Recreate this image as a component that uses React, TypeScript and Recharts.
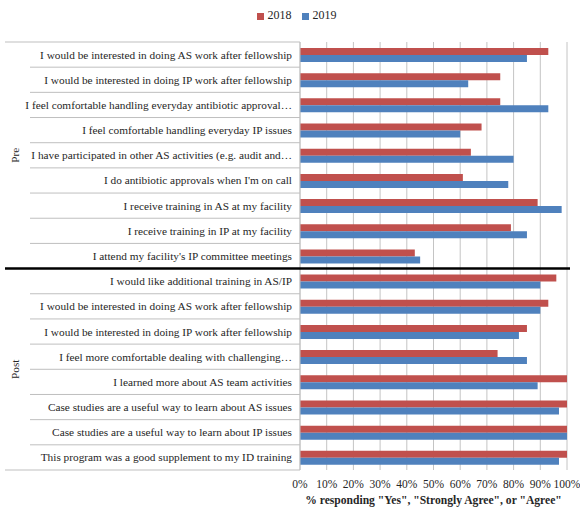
import { BarChart, Bar, XAxis, YAxis, CartesianGrid, Legend } from 'recharts';

const labels = [
  'I would be interested in doing AS work after fellowship',
  'I would be interested in doing IP work after fellowship',
  'I feel comfortable handling everyday antibiotic approval…',
  'I feel comfortable handling everyday IP issues',
  'I have participated in other AS activities (e.g. audit and…',
  "I do antibiotic approvals when I'm on call",
  'I receive training in AS at my facility',
  'I receive training in IP at my facility',
  "I attend my facility's IP committee meetings",
  'I would like additional training in AS/IP',
  'I would be interested in doing AS work after fellowship',
  'I would be interested in doing IP work after fellowship',
  'I feel more comfortable dealing with challenging…',
  'I learned more about AS team activities',
  'Case studies are a useful way to learn about AS issues',
  'Case studies are a useful way to learn about IP issues',
  'This program was a good supplement to my ID training',
];

const values2018 = [93, 75, 75, 68, 64, 61, 89, 79, 43, 96, 93, 85, 74, 100, 100, 100, 100];
const values2019 = [85, 63, 93, 60, 80, 78, 98, 85, 45, 90, 90, 82, 85, 89, 97, 100, 97];

const xTicks = [0, 10, 20, 30, 40, 50, 60, 70, 80, 90, 100];

const data = labels.map((label, i) => ({
  id: `q${i}`,
  label,
  y2018: values2018[i],
  y2019: values2019[i],
}));

const W = 580;
const H = 507;
const AXIS_X = 300;
const RIGHT = 13;
const FONT = '"Liberation Serif", "Times New Roman", serif';
const RED = '#C0504D';
const BLUE = '#4F81BD';
const TEXT = '#262626';
const LAST_PRE = 8;
const LAST = labels.length - 1;

function CategoryTick(props: any) {
  const { y, payload, index } = props;
  const half = payload.offset ?? 12.6;
  const line = '#bfbfbf';
  return (
    <g>
      <text
        x={AXIS_X - 8}
        y={y}
        dy={4}
        textAnchor="end"
        fontSize={11.3}
        fontFamily={FONT}
        fill={TEXT}
      >
        {data[index].label}
      </text>
      {index === 0 && <line x1={5} x2={AXIS_X} y1={y - half} y2={y - half} stroke={line} />}
      {index === LAST_PRE && (
        <line x1={5} x2={W - 10} y1={y + half} y2={y + half} stroke="#000" strokeWidth={2.5} />
      )}
      {index === LAST && <line x1={5} x2={AXIS_X} y1={y + half} y2={y + half} stroke={line} />}
      {index !== LAST_PRE && index !== LAST && (
        <line x1={30} x2={AXIS_X} y1={y + half} y2={y + half} stroke={line} />
      )}
      {index === 4 && (
        <text
          x={15}
          y={y}
          transform={`rotate(-90 15 ${y})`}
          textAnchor="middle"
          dy={4}
          fontSize={11.3}
          fontFamily={FONT}
          fill={TEXT}
        >
          Pre
        </text>
      )}
      {index === 12 && (
        <text
          x={15}
          y={y + half}
          transform={`rotate(-90 15 ${y + half})`}
          textAnchor="middle"
          dy={4}
          fontSize={11.3}
          fontFamily={FONT}
          fill={TEXT}
        >
          Post
        </text>
      )}
    </g>
  );
}

export default function App() {
  return (
    <div style={{ position: 'absolute', left: 0, top: 0, background: '#fff' }}>
      <BarChart
        width={W}
        height={H}
        data={data}
        layout="vertical"
        margin={{ top: 8, right: RIGHT, bottom: 0, left: 0 }}
        barSize={7}
        barGap={0}
      >
        <CartesianGrid horizontal={false} stroke="#c4c4c4" />
        <XAxis
          type="number"
          domain={[0, 100]}
          ticks={xTicks}
          tickFormatter={(v) => `${v}%`}
          tick={{ fontSize: 11.5, fontFamily: FONT, fill: TEXT, dy: 2 }}
          tickLine={false}
          axisLine={false}
          height={37}
          interval={0}
          label={{
            value: '% responding "Yes", "Strongly Agree", or "Agree"',
            position: 'insideBottom',
            offset: 3,
            fontSize: 11.6,
            fontWeight: 'bold',
            fontFamily: FONT,
            fill: TEXT,
          }}
        />
        <YAxis
          type="category"
          dataKey="id"
          width={AXIS_X}
          interval={0}
          tickLine={false}
          axisLine={{ stroke: '#c4c4c4' }}
          tick={<CategoryTick />}
        />
        <Legend
          verticalAlign="top"
          iconType="square"
          iconSize={7}
          wrapperStyle={{ height: 34, fontSize: 12, fontFamily: FONT, left: 18 }}
          formatter={(v) => <span style={{ color: TEXT }}>{v}</span>}
        />
        <Bar dataKey="y2018" name="2018" fill={RED} isAnimationActive={false} />
        <Bar dataKey="y2019" name="2019" fill={BLUE} isAnimationActive={false} />
      </BarChart>
    </div>
  );
}
